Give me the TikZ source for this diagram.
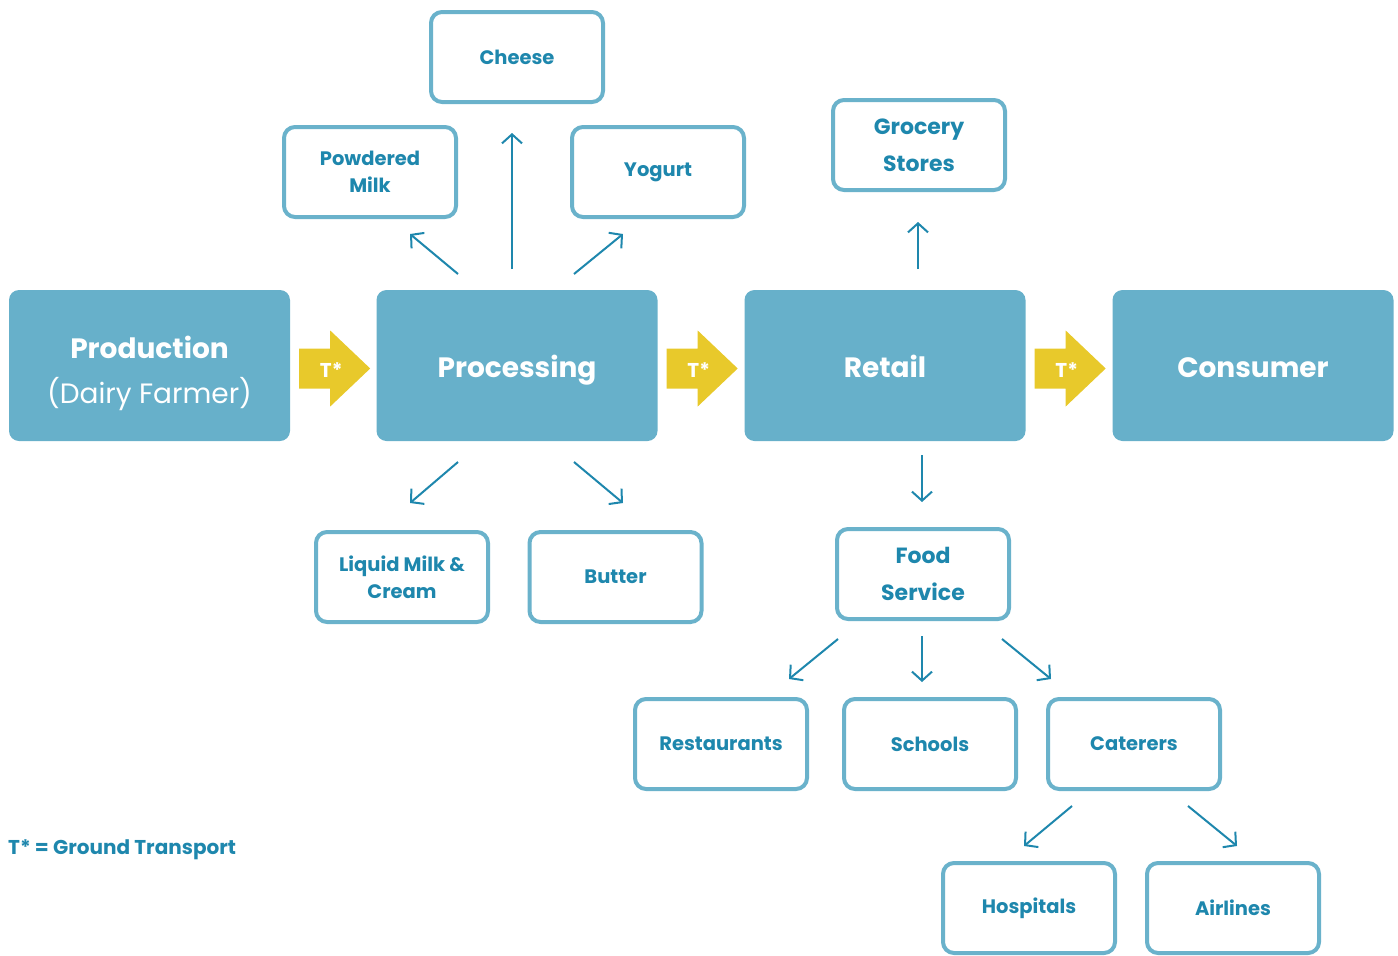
\documentclass[tikz,border=0pt]{standalone}
\usepackage{fontspec}
\setmainfont{Poppins}
\usetikzlibrary{arrows.meta}
\definecolor{boxfill}{HTML}{67B0CA}
\definecolor{boxline}{HTML}{6AB2CB}
\definecolor{txt}{HTML}{1E87AD}
\definecolor{yel}{HTML}{E8C92B}
\tikzset{
  mainbox/.style={fill=boxfill, rounded corners=10pt, minimum width=281pt, minimum height=151pt, inner sep=0pt},
  maintext/.style={text=white, font=\bfseries\fontsize{28}{34}\selectfont, inner sep=0pt, anchor=base},
  subbox/.style={draw=boxline, line width=4pt, fill=white, rounded corners=11pt,
    minimum width=172pt, minimum height=90pt, text=txt,
    font=\bfseries\fontsize{19.5}{27}\selectfont, align=center, inner sep=0pt},
  bigsub/.style={subbox, font=\bfseries\fontsize{22}{37}\selectfont},
  arr/.style={draw=txt, line width=2pt, -{Straight Barb[length=9pt,width=20pt,line width=2pt]}},
  tlabel/.style={text=white, font=\bfseries\fontsize{20}{22}\selectfont, inner sep=0pt},
}
\begin{document}
\begin{tikzpicture}[x=1pt,y=-1pt]
\useasboundingbox (0,0) rectangle (1398,956);
% main boxes
\node[mainbox] (prod) at (149.5,365.5) {};
\node[mainbox] (proc) at (517,365.5) {};
\node[mainbox] (ret) at (885,365.5) {};
\node[mainbox] (cons) at (1253,365.5) {};
\node[maintext] (prodt1) at ([yshift=7.5pt]prod.center) {Production};
\node[maintext, font=\fontsize{28}{34}\selectfont] (prodt2) at ([yshift=-37.5pt]prod.center) {(Dairy Farmer)};
\node[maintext] (proct) at ([yshift=-12pt]proc.center) {Processing};
\node[maintext] (rett) at ([yshift=-12pt]ret.center) {Retail};
\node[maintext] (const) at ([yshift=-12pt]cons.center) {Consumer};
% transport arrows
\foreach \a/\n in {prod/t1, proc/t2, ret/t3}{
  \fill[yel] ([xshift=9pt,yshift=17pt]\a.east) -- ++(31,0) -- ++(0,-18) -- ++(40,38) -- ++(-40,38) -- ++(0,-18) -- ++(-31,0) -- cycle;
  \node[tlabel] (\n) at ([xshift=41pt,yshift=-5pt]\a.east) {T*};
}
% sub boxes
\node[subbox] (cheese) at (517,57) {Cheese};
\node[subbox] (powder) at (370,172) {Powdered\\Milk};
\node[subbox] (yog) at (658,172) {Yogurt};
\node[bigsub] (groc) at (919,145) {Grocery\\Stores};
\node[subbox] (liq) at (402,577) {Liquid Milk \&\\Cream};
\node[subbox] (butter) at (615.5,577) {Butter};
\node[bigsub] (food) at (923,574) {Food\\Service};
\node[subbox] (rest) at (721,744) {Restaurants};
\node[subbox] (sch) at (930,744) {Schools};
\node[subbox] (cat) at (1134,744) {Caterers};
\node[subbox] (hosp) at (1029,908) {Hospitals};
\node[subbox] (air) at (1233,908) {Airlines};
% arrow end points
\coordinate (a1s) at (458,274); \coordinate (a1e) at (410,234);
\coordinate (a2s) at (512,269); \coordinate (a2e) at (512,133);
\coordinate (a3s) at (574,274); \coordinate (a3e) at (623,234);
\coordinate (a4s) at (918,269); \coordinate (a4e) at (918,222);
\coordinate (a5s) at (458,462); \coordinate (a5e) at (410,503);
\coordinate (a6s) at (574,462); \coordinate (a6e) at (623,503);
\coordinate (a7s) at (922,455); \coordinate (a7e) at (922,502);
\coordinate (a8s) at (838,639); \coordinate (a8e) at (789,679);
\coordinate (a9s) at (922,636); \coordinate (a9e) at (922,682);
\coordinate (a10s) at (1002,639); \coordinate (a10e) at (1051,679);
\coordinate (a11s) at (1072,806); \coordinate (a11e) at (1024,846);
\coordinate (a12s) at (1188,806); \coordinate (a12e) at (1237,846);
\foreach \i in {1,...,12}{ \draw[arr] (a\i s) -- (a\i e); }
% legend
\node[anchor=west, text=txt, font=\bfseries\fontsize{20}{24}\selectfont, inner sep=0pt] (legend) at (8,850) {T* = Ground Transport};
\end{tikzpicture}
\end{document}
